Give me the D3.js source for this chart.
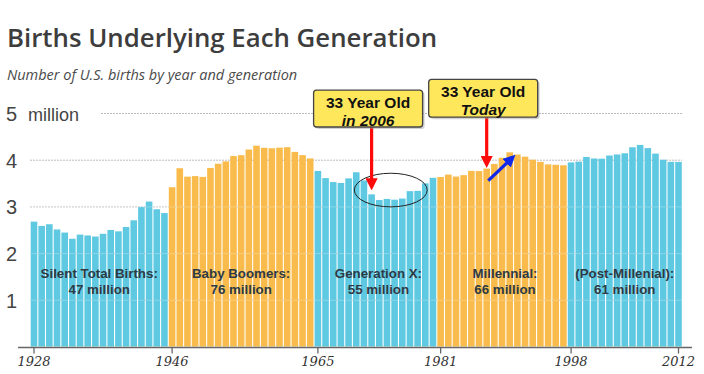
<!DOCTYPE html>
<html>
<head>
<meta charset="utf-8">
<script src="https://cdn.jsdelivr.net/npm/d3@7/dist/d3.min.js"></script>
<style>
  body { margin: 0; background: #fff; }
  svg { display: block; }
  .title { font-family: "Open Sans", sans-serif; font-weight: 600; fill: #3d3d3d; }
  .subtitle { font-family: "Open Sans", sans-serif; font-style: italic; fill: #4a4a4a; }
  .ylab { font-family: "Liberation Sans", Arial, sans-serif; fill: #444; }
  .xaxis text { font-family: "DejaVu Serif", serif; font-style: italic; fill: #333; }
  .gen { font-family: "Liberation Sans", Arial, sans-serif; font-weight: bold; fill: #2e3a44; }
  .callout { font-family: "Liberation Sans", Arial, sans-serif; font-weight: bold; fill: #111; }
</style>
</head>
<body>
<div id="chart"></div>
<script>
// US births per year, millions, 1928..2012
const START_YEAR = 1928;
const BIRTHS = [
  2.674, 2.582, 2.618, 2.506, 2.440, 2.307, 2.396, 2.377, 2.355, 2.413,
  2.496, 2.466, 2.559, 2.703, 2.989, 3.104, 2.939, 2.858,
  3.411, 3.817, 3.637, 3.649, 3.632, 3.823, 3.913, 3.965, 4.078, 4.097,
  4.218, 4.300, 4.255, 4.245, 4.258, 4.268, 4.167, 4.098, 4.027,
  3.760, 3.606, 3.521, 3.502, 3.600, 3.731, 3.556, 3.258, 3.137, 3.160,
  3.144, 3.168, 3.327, 3.333, 3.494, 3.612,
  3.629, 3.681, 3.639, 3.669, 3.761, 3.757, 3.809, 3.910, 4.041, 4.158,
  4.111, 4.065, 4.000, 3.953, 3.900, 3.891, 3.881,
  3.942, 3.959, 4.059, 4.026, 4.022, 4.090, 4.112, 4.138, 4.266, 4.316,
  4.248, 4.131, 3.999, 3.954, 3.953
];
const YEARS = BIRTHS.map((d, i) => START_YEAR + i);

const GEN_NAMES  = ["Silent Total Births:", "Baby Boomers:", "Generation X:", "Millennial:", "(Post-Millenial):"];
const GEN_TOTALS = ["47 million", "76 million", "55 million", "66 million", "61 million"];
const GEN_START  = [1928, 1946, 1965, 1981, 1998];
const GEN_END    = [1945, 1964, 1980, 1997, 2012];

const X_TICKS = [1928, 1946, 1965, 1981, 1998, 2012];
const Y_TICKS = [1, 2, 3, 4, 5];

// annotations, in data units (year, millions)
const CALLOUTS = [
  {lines: ["33 Year Old", "in 2006"], year: 1972, top: 5.49, bottom: 4.70, tip: 3.42},
  {lines: ["33 Year Old", "Today"],   year: 1987, top: 5.72, bottom: 4.91, tip: 3.90},
];
const CIRCLE = {year: 1974.5, value: 3.35, ryears: 4.75, rvalue: 0.36};
const BLUE_ARROW = {from: [1987.2, 3.55], to: [1990.4, 4.05]};

/* ---------------------------------- */
const CFG = {
  W: 704, H: 374,
  BAR_X0: 30.7, BAR_X1: 681.8,
  Y_BASE: 346.5, Y_TOP: 113,
  BLUE: "#5fc9e2", ORANGE: "#f9bc4c",
};

var svg = d3.select("#chart").append("svg")
  .attr("width", CFG.W).attr("height", CFG.H);

var defs = svg.append("defs");
[["redHead", "#ff0a0a"], ["blueHead", "#1028e8"]].forEach(function(m){
  defs.append("marker")
    .attr("id", m[0])
    .attr("viewBox", "0 0 10 10")
    .attr("refX", 7).attr("refY", 5)
    .attr("markerWidth", 3.8).attr("markerHeight", 3.8)
    .attr("orient", "auto")
    .append("path").attr("d", "M0,0 L10,5 L0,10 Z").attr("fill", m[1]);
});

var x = d3.scaleBand().domain(YEARS).range([CFG.BAR_X0, CFG.BAR_X1]).paddingInner(0.14).paddingOuter(0);
var xc = (yr) => x(yr) + x.bandwidth() / 2;
var xl = d3.scaleLinear().domain([YEARS[0], YEARS[YEARS.length - 1]]).range([xc(YEARS[0]), xc(YEARS[YEARS.length - 1])]);
var y = d3.scaleLinear().domain([0, 5]).range([CFG.Y_BASE, CFG.Y_TOP]);

var genIndex = (yr) => GEN_START.findIndex((s, i) => yr >= s && yr <= GEN_END[i]);

// titles
svg.append("text").classed("title", true)
   .attr("x", 7).attr("y", 47).style("font-size", "25.8px")
   .text("Births Underlying Each Generation");
svg.append("text").classed("subtitle", true)
   .attr("x", 7).attr("y", 80).style("font-size", "14.5px")
   .text("Number of U.S. births by year and generation");

// grid
svg.append("g").selectAll("line")
   .data(Y_TICKS).enter().append("line")
   .attr("x1", (d) => d === 5 ? 101 : 30)
   .attr("x2", 682)
   .attr("y1", (d) => y(d) + 0.5).attr("y2", (d) => y(d) + 0.5)
   .attr("stroke", "#bdbdbd").attr("stroke-dasharray", "2,1");

// bars
svg.append("g").selectAll("rect")
   .data(YEARS).enter().append("rect")
   .attr("x", (d) => x(d))
   .attr("width", x.bandwidth())
   .attr("y", (d, i) => y(BIRTHS[i]))
   .attr("height", (d, i) => y(0) - y(BIRTHS[i]))
   .attr("fill", (d) => genIndex(d) % 2 === 0 ? CFG.BLUE : CFG.ORANGE);

// faint grid over bars
svg.append("g").selectAll("line")
   .data(Y_TICKS.slice(0, 3)).enter().append("line")
   .attr("x1", 30).attr("x2", 682)
   .attr("y1", (d) => y(d) + 0.5).attr("y2", (d) => y(d) + 0.5)
   .attr("stroke", "#fff").attr("stroke-opacity", 0.25);

// y labels
svg.append("g").selectAll("text")
   .data(Y_TICKS).enter().append("text")
   .classed("ylab", true)
   .attr("x", 6).attr("y", (d) => y(d) + 8)
   .style("font-size", "20px")
   .text((d) => d);
svg.append("text").classed("ylab", true)
   .attr("x", 28).attr("y", y(5) + 8)
   .style("font-size", "18px")
   .text("million");

// x axis
svg.append("line")
   .attr("x1", 18).attr("x2", 692)
   .attr("y1", 347.5).attr("y2", 347.5)
   .attr("stroke", "#666").attr("stroke-width", 1.5);
var xAxis = svg.append("g").classed("xaxis", true)
   .attr("transform", "translate(0,347.5)")
   .call(d3.axisBottom(x).tickValues(X_TICKS).tickSize(6).tickSizeOuter(0).tickPadding(3));
xAxis.select(".domain").remove();
xAxis.selectAll(".tick line").attr("stroke", "#666").attr("stroke-width", 1.3);
xAxis.selectAll(".tick text").style("font-size", "13px");

// generation labels
var genG = svg.append("g").selectAll("g")
   .data(GEN_NAMES).enter().append("g")
   .attr("transform", (d, i) => "translate(" + ((xc(GEN_START[i]) + xc(GEN_END[i])) / 2 + (i === 2 || i === 3 ? 3 : 0)) + ",0)");
genG.append("text").classed("gen", true)
   .attr("text-anchor", "middle").attr("y", 278)
   .style("font-size", "13.3px")
   .text((d) => d);
genG.append("text").classed("gen", true)
   .attr("text-anchor", "middle").attr("y", 293.5)
   .style("font-size", "13.3px")
   .text((d, i) => GEN_TOTALS[i]);

// circle round the dip
svg.append("ellipse")
   .attr("cx", xl(CIRCLE.year)).attr("cy", y(CIRCLE.value))
   .attr("rx", xl(CIRCLE.year + CIRCLE.ryears) - xl(CIRCLE.year))
   .attr("ry", y(CIRCLE.value - CIRCLE.rvalue) - y(CIRCLE.value))
   .attr("fill", "none").attr("stroke", "#222").attr("stroke-width", 1);

// blue arrow
svg.append("line")
   .attr("x1", xl(BLUE_ARROW.from[0])).attr("y1", y(BLUE_ARROW.from[1]))
   .attr("x2", xl(BLUE_ARROW.to[0])).attr("y2", y(BLUE_ARROW.to[1]))
   .attr("stroke", "#1028e8").attr("stroke-width", 3.2)
   .attr("marker-end", "url(#blueHead)");

// callouts
var co = svg.append("g").selectAll("g")
   .data(CALLOUTS).enter().append("g");
co.append("line")
   .attr("x1", (d) => xc(d.year)).attr("x2", (d) => xc(d.year))
   .attr("y1", (d) => y(d.bottom)).attr("y2", (d) => y(d.tip))
   .attr("stroke", "#ff0a0a").attr("stroke-width", 3.2)
   .attr("marker-end", "url(#redHead)");
co.append("rect")
   .attr("x", (d) => xc(d.year) - 56).attr("y", (d) => y(d.top) + 2)
   .attr("width", 109).attr("height", (d) => y(d.bottom) - y(d.top))
   .attr("rx", 3).attr("fill", "#999").attr("opacity", 0.45);
co.append("rect")
   .attr("x", (d) => xc(d.year) - 58).attr("y", (d) => y(d.top))
   .attr("width", 109).attr("height", (d) => y(d.bottom) - y(d.top))
   .attr("rx", 3).attr("fill", "#ffe75c").attr("stroke", "#444").attr("stroke-width", 1.3);
co.append("text").classed("callout", true)
   .attr("x", (d) => xc(d.year) - 3.5).attr("y", (d) => y(d.top) + 18)
   .attr("text-anchor", "middle").style("font-size", "15.5px")
   .text((d) => d.lines[0]);
co.append("text").classed("callout", true)
   .attr("x", (d) => xc(d.year) - 3.5).attr("y", (d) => y(d.top) + 35.5)
   .attr("text-anchor", "middle").style("font-size", "15.5px").style("font-style", "italic")
   .text((d) => d.lines[1]);
</script>
</body>
</html>
